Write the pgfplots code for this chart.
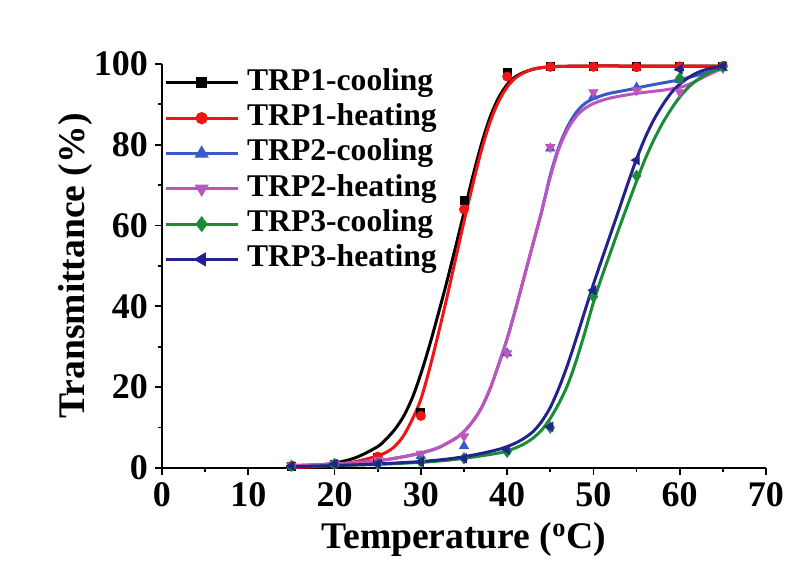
\documentclass[border=0pt]{standalone}
\usepackage{pgfplots}
\pgfplotsset{compat=1.18}
\usepackage{fontspec}
\setmainfont{Liberation Serif}
\definecolor{cblack}{RGB}{0,0,0}
\definecolor{cred}{RGB}{240,20,20}
\definecolor{cblue}{RGB}{55,90,200}
\definecolor{cmag}{RGB}{190,85,190}
\definecolor{cgreen}{RGB}{25,140,55}
\definecolor{cnavy}{RGB}{35,35,140}
\begin{document}
\begin{tikzpicture}
\useasboundingbox (-81pt,-49.5pt) rectangle (319pt,234pt);
\begin{axis}[
  at={(0,0)}, anchor=south west, scale only axis, width=302pt, height=202pt,
  xmin=0, xmax=70, ymin=0, ymax=100,
  axis x line*=bottom, axis y line*=left,
  xtick={0,10,...,70}, ytick={0,20,...,100},
  minor x tick num=1, minor y tick num=1,
  tick align=outside, major tick length=3.5pt, minor tick length=2.2pt,
  axis line style={line width=0.9pt, black},
  tick style={line width=0.9pt, black},
  /pgf/number format/assume math mode=true,
  tick label style={font=\fontsize{18}{21}\selectfont\bfseries},
  xlabel={Temperature (\textsuperscript{o}C)},
  ylabel={Transmittance (\%)},
  label style={font=\fontsize{18.8}{22}\selectfont\bfseries},
  x label style={at={(axis description cs:0.5,-0.178)}, anchor=center},
  y label style={at={(axis description cs:-0.144,0.5)}, anchor=center},
  clip=false,
  legend style={draw=none, fill=none, at={(rel axis cs:-0.007,1.0)}, anchor=north west,
    font=\fontsize{15.8}{18}\selectfont\bfseries, row sep=3.15pt, column sep=4pt,
    nodes={inner sep=0pt, text height=11pt, text depth=3.5pt}},
  legend cell align=left,
  legend image code/.code={\draw[mark repeat=2,mark phase=2] plot coordinates {(0pt,0pt) (18pt,0pt) (36pt,0pt)};},
]
% TRP1-cooling
\addplot[cblack, line width=1.5pt, smooth, forget plot] coordinates {
(15,0.3)(17.5,0.6)(20,1.2)(22.5,2.6)(25,5.3)(26,7.2)(27,9.6)(28,12.8)(29,17.3)(30,23.3)(31,30.3)(32,38)(33,46)(34,54.5)(35,63.2)(36,72)(37,80)(38,86.7)(39,91.6)(40,94.9)(41,96.9)(42,98.0)(43,98.7)(44,99.1)(46,99.4)(50,99.5)(55,99.5)(60,99.5)(65,99.5)};
\addplot[cblack, only marks, mark=square*, mark size=2pt, forget plot] coordinates {
(15,0.5)(20,1.0)(25,2.5)(30,13.8)(35,66.3)(40,97.9)(45,99.5)(50,99.3)(55,99.3)(60,99.5)(65,99.5)};
% TRP1-heating
\addplot[cred, line width=1.5pt, smooth, forget plot] coordinates {
(15,0.1)(17.5,0.3)(20,0.8)(22.5,1.6)(25,3.0)(26,3.9)(27,5.4)(28,8.0)(29,12.0)(30,17.0)(31,24.5)(32,33)(33,42)(34,51.5)(35,61)(36,70)(37,78.5)(38,85.5)(39,90.7)(40,94.3)(41,96.6)(42,97.9)(43,98.7)(44,99.1)(46,99.4)(50,99.5)(55,99.5)(60,99.5)(65,99.5)};
\addplot[cred, only marks, mark=*, mark size=2.3pt, forget plot] coordinates {
(15,0.5)(20,1.0)(25,2.8)(30,12.9)(35,64)(40,96.9)(45,99.3)(50,99.3)(55,99.2)(60,99.4)(65,99.5)};
% TRP2-cooling
\addplot[cblue, line width=1.5pt, smooth, forget plot] coordinates {
(15,0.6)(20,1.0)(25,1.8)(28,2.8)(30,3.7)(32,5.0)(34,7.3)(35,9.0)(36,11.5)(37,14.8)(38,19.5)(39,25.5)(40,32)(41,39.5)(42,47.5)(43,55.5)(44,63.5)(45,72.5)(46,79.5)(47,84.5)(48,88)(49,90.2)(50,91.4)(51,92.2)(52,92.8)(54,93.6)(56,94.5)(58,95.3)(60,96.1)(62,97.2)(64,98.4)(65,99)};
\addplot[cblue, only marks, mark=triangle*, mark size=2.6pt, forget plot] coordinates {
(15,0.5)(20,1.0)(25,1.5)(30,3.0)(35,5.4)(40,28.4)(45,79.1)(50,92.0)(55,94.2)(60,96)(65,99)};
% TRP2-heating
\addplot[cmag, line width=1.5pt, smooth, forget plot] coordinates {
(15,0.6)(20,1.0)(25,1.8)(28,2.8)(30,3.7)(32,5.0)(34,7.3)(35,9.0)(36,11.5)(37,14.8)(38,19.5)(39,25.5)(40,32)(41,39.5)(42,47.5)(43,55.5)(44,63.5)(45,72)(46,79)(47,83.8)(48,87)(49,89)(50,90.2)(51,91)(52,91.6)(54,92.4)(56,93)(58,93.5)(60,94.2)(61,94.9)(62,95.9)(63,97)(64,98)(65,99)};
\addplot[cmag, only marks, mark=triangle*, mark size=2.6pt, mark options={rotate=180}, forget plot] coordinates {
(15,0.5)(20,1.0)(25,2.0)(30,3.5)(35,7.8)(40,28.4)(45,79.4)(50,93)(55,93.5)(60,93)(65,99)};
% TRP3-cooling
\addplot[cgreen, line width=1.5pt, smooth, forget plot] coordinates {
(15,0.3)(20,0.6)(25,0.9)(30,1.4)(33,1.9)(35,2.4)(37,3.0)(39,3.7)(40,4.2)(41,5.0)(42,6.0)(43,7.4)(44,9.4)(45,12.3)(46,16.0)(47,20.5)(48,26.5)(49,33.5)(50,41)(51,47.5)(52,53.5)(53,59.5)(54,65.3)(55,71)(56,76.5)(57,81.2)(58,85.3)(59,88.8)(60,91.8)(61,94.2)(62,96)(63,97.4)(64,98.4)(65,99.1)};
\addplot[cgreen, only marks, mark=diamond*, mark size=2.8pt, forget plot] coordinates {
(15,0.5)(20,1.0)(25,1.0)(30,1.5)(35,2.4)(40,4.0)(45,10)(50,42.4)(55,72.3)(60,96.5)(65,99.3)};
% TRP3-heating
\addplot[cnavy, line width=1.5pt, smooth, forget plot] coordinates {
(15,0.3)(20,0.6)(25,1.0)(30,1.6)(33,2.2)(35,2.8)(37,3.6)(39,4.6)(40,5.3)(41,6.2)(42,7.4)(43,9.0)(44,11.5)(45,15)(46,19.8)(47,25.5)(48,32)(49,38.8)(50,45.5)(51,51.8)(52,58)(53,64.2)(54,70.5)(55,76.5)(56,81.8)(57,86.2)(58,89.8)(59,92.8)(60,95)(61,96.6)(62,97.8)(63,98.6)(64,99.1)(65,99.4)};
\addplot[cnavy, only marks, mark=triangle*, mark size=2.6pt, mark options={rotate=90}, forget plot] coordinates {
(15,0.5)(20,1.0)(25,1.0)(30,1.5)(35,2.4)(40,4.5)(45,10.2)(50,44)(55,76.2)(60,98.7)(65,99.5)};
% legend
\addlegendimage{cblack, line width=1.5pt, mark=square*, mark size=2pt}
\addlegendentry{TRP1-cooling}
\addlegendimage{cred, line width=1.5pt, mark=*, mark size=2.3pt}
\addlegendentry{TRP1-heating}
\addlegendimage{cblue, line width=1.5pt, mark=triangle*, mark size=2.6pt}
\addlegendentry{TRP2-cooling}
\addlegendimage{cmag, line width=1.5pt, mark=triangle*, mark size=2.6pt, mark options={rotate=180}}
\addlegendentry{TRP2-heating}
\addlegendimage{cgreen, line width=1.5pt, mark=diamond*, mark size=2.8pt}
\addlegendentry{TRP3-cooling}
\addlegendimage{cnavy, line width=1.5pt, mark=triangle*, mark size=2.6pt, mark options={rotate=90}}
\addlegendentry{TRP3-heating}
\end{axis}
\end{tikzpicture}
\end{document}
